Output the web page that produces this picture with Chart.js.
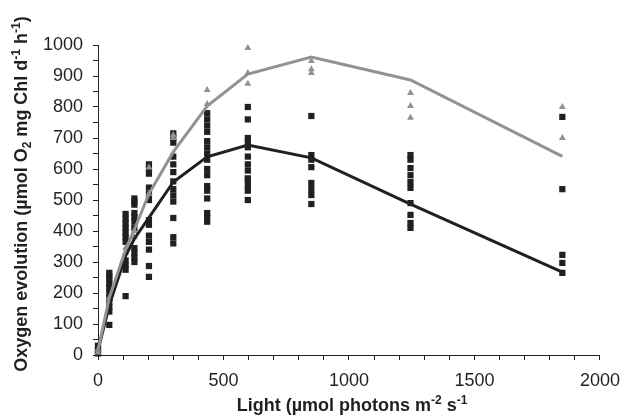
<!DOCTYPE html>
<html>
<head>
<meta charset="utf-8">
<script src="https://cdn.jsdelivr.net/npm/chart.js@4.4.0/dist/chart.umd.min.js"></script>
<style>
  html, body { margin: 0; background: #fff; }
  #wrap { width: 630px; height: 419px; }
</style>
</head>
<body>
<div id="wrap"><canvas id="chart"></canvas></div>
<script>
// light levels (µmol photons m-2 s-1) where samples were measured
const lightLevels = [0, 45, 110, 145, 203, 300, 435, 597, 850, 1245, 1850];

// individual measurements, one list per light level (black squares)
const squareValues = [
  [5, 12, 20, 30],
  [265, 255, 245, 230, 215, 200, 185, 170, 155, 140, 97],
  [455, 440, 425, 410, 395, 380, 365, 305, 290, 275, 190],
  [505, 495, 485, 458, 445, 430, 410, 345, 330, 315, 300],
  [615, 600, 585, 540, 520, 500, 435, 420, 385, 365, 340, 287, 252],
  [715, 700, 685, 640, 615, 590, 560, 535, 515, 495, 442, 380, 360],
  [780, 760, 740, 720, 690, 670, 650, 630, 600, 580, 545, 530, 505, 458, 445, 430],
  [800, 760, 700, 685, 670, 640, 615, 595, 570, 565, 545, 530, 500],
  [771, 645, 630, 606, 555, 535, 516, 487],
  [645, 630, 603, 580, 558, 539, 490, 452, 426, 410],
  [768, 535, 323, 297, 265]
];

// individual measurements (grey triangles)
const triangleValues = [
  [8, 18],
  [185, 175],
  [345, 330],
  [400, 380],
  [605, 520],
  [710, 700],
  [855, 810],
  [990, 910, 875],
  [948, 922, 910],
  [845, 803, 765],
  [800, 700]
];

// fitted curves
const blackCurve = [15, 160, 320, 375, 443, 558, 639, 677, 636, 487, 267];
const grayCurve  = [15, 185, 340, 405, 520, 655, 803, 906, 961, 887, 641];

const xTickLabels = [0, 500, 1000, 1500, 2000];
const yTickLabels = [0, 100, 200, 300, 400, 500, 600, 700, 800, 900, 1000];

const xTitleParts = [
  { t: "Light (\u00b5mol photons m" }, { t: "-2", s: "sup" }, { t: " s" }, { t: "-1", s: "sup" }
];
const yTitleParts = [
  { t: "Oxygen evolution (\u00b5mol O" }, { t: "2", s: "sub" }, { t: " mg Chl d" },
  { t: "-1", s: "sup" }, { t: " h" }, { t: "-1", s: "sup" }, { t: ")" }
];

const BLACK = "#231f20";
const GREY = "#929292";
const FONT = '"Liberation Sans", Arial, sans-serif';

function toPoints(lists){
  const pts = [];
  lists.forEach((vals, i) => vals.forEach(v => pts.push({ x: lightLevels[i], y: v })));
  return pts;
}
function curve(vals){ return vals.map((v, i) => ({ x: lightLevels[i], y: v })); }

function drawRich(ctx, parts, cx, cy, rot){
  const fontOf = p => p.s ? `bold 12px ${FONT}` : `bold 18px ${FONT}`;
  ctx.save();
  ctx.translate(cx, cy);
  ctx.rotate(rot);
  ctx.fillStyle = BLACK;
  ctx.textBaseline = "alphabetic";
  const widths = parts.map(p => { ctx.font = fontOf(p); return ctx.measureText(p.t).width; });
  let x = -widths.reduce((a, b) => a + b, 0) / 2;
  parts.forEach((p, i) => {
    ctx.font = fontOf(p);
    const dy = p.s === "sup" ? -7 : p.s === "sub" ? 4 : 0;
    ctx.fillText(p.t, x, dy);
    x += widths[i];
  });
  ctx.restore();
}

const axisTitles = {
  id: "axisTitles",
  afterDraw(chart){
    const ctx = chart.ctx;
    drawRich(ctx, xTitleParts, 352, 411, 0);
    drawRich(ctx, yTitleParts, 27, 194, -Math.PI / 2);
  }
};

new Chart(document.getElementById("chart"), {
  type: "scatter",
  data: {
    datasets: [
      { data: toPoints(squareValues), pointStyle: "rect", pointRadius: 4.4, backgroundColor: BLACK,
        borderWidth: 0, order: 4, clip: false },
      { data: toPoints(triangleValues), pointStyle: "triangle", pointRadius: 4, backgroundColor: GREY,
        borderWidth: 0, order: 3, clip: false },
      { data: curve(blackCurve), showLine: true, pointRadius: 0, borderColor: BLACK, borderWidth: 3,
        order: 2, clip: false },
      { data: curve(grayCurve), showLine: true, pointRadius: 0, borderColor: GREY, borderWidth: 3,
        order: 1, clip: false }
    ]
  },
  options: {
    responsive: true,
    maintainAspectRatio: false,
    animation: false,
    layout: { padding: { top: 45, right: 24, left: 0, bottom: 0 } },
    plugins: { legend: { display: false }, tooltip: { enabled: false } },
    scales: {
      x: {
        type: "linear", min: 0, max: 2000,
        afterFit: s => { s.height = 64; },
        border: { color: BLACK, width: 1 },
        grid: { drawOnChartArea: false, drawTicks: true, tickLength: 5, tickColor: BLACK },
        ticks: {
          stepSize: 100, autoSkip: false, maxRotation: 0, padding: 10, color: BLACK,
          font: { family: FONT, size: 18 },
          callback: v => xTickLabels.includes(v) ? String(v) : ""
        }
      },
      y: {
        type: "linear", min: 0, max: 1000,
        afterFit: s => { s.width = 98; },
        border: { color: BLACK, width: 1 },
        grid: { drawOnChartArea: false, drawTicks: true, tickLength: 5, tickColor: BLACK },
        ticks: {
          stepSize: 50, autoSkip: false, padding: 10, color: BLACK,
          font: { family: FONT, size: 18 },
          callback: v => yTickLabels.includes(v) ? String(v) : ""
        }
      }
    }
  },
  plugins: [axisTitles]
});
</script>
</body>
</html>
